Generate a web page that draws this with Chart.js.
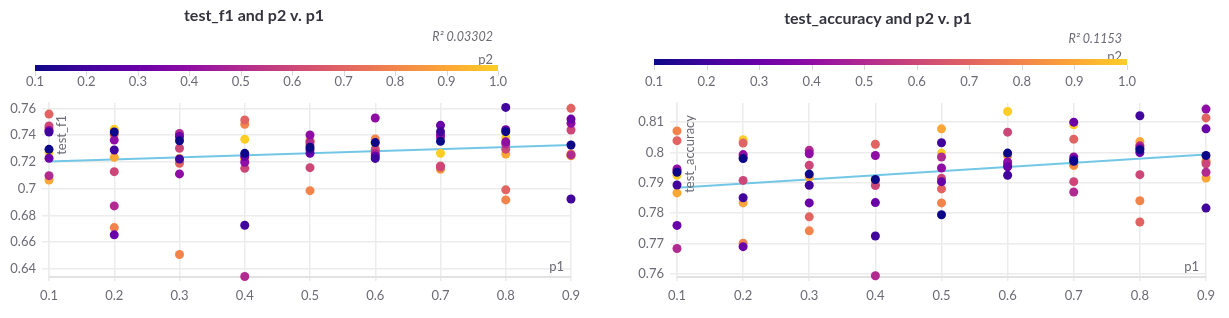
<!DOCTYPE html>
<html>
<head>
<meta charset="utf-8">
<script src="https://cdn.jsdelivr.net/npm/chart.js@4"></script>
<style>
    body { margin: 0; background: #ffffff; }
    .panel { position: absolute; top: 0; height: 318px; }
</style>
</head>
<body>
<div class="panel" style="left:0px; width:610px;"><canvas id="chartF1" width="610" height="318"></canvas></div>
<div class="panel" style="left:615px; width:614px;"><canvas id="chartAcc" width="614" height="318"></canvas></div>
<script>
// Sweep values
const P1 = [0.1, 0.2, 0.3, 0.4, 0.5, 0.6, 0.7, 0.8, 0.9];
const P2 = [0.1, 0.2, 0.3, 0.4, 0.5, 0.6, 0.7, 0.8, 0.9, 1.0];
const CBAR_TICKS = [0.1, 0.2, 0.3, 0.4, 0.5, 0.6, 0.7, 0.8, 0.9, 1.0];

// test_f1, one row per p2 value, one column per p1 value
const TEST_F1 = [
    [0.7294, 0.7423, 0.7358, 0.7264, 0.7309, 0.7344, 0.7354, 0.7426, 0.7326],
    [0.7423, 0.7289, 0.7222, 0.6727, 0.7290, 0.7226, 0.7426, 0.7607, 0.6923],
    [0.7227, 0.6655, 0.7390, 0.7240, 0.7264, 0.7244, 0.7473, 0.7440, 0.7520],
    [0.7435, 0.7363, 0.7110, 0.7197, 0.7401, 0.7528, 0.7400, 0.7350, 0.7488],
    [0.7097, 0.6871, 0.7413, 0.6344, 0.7350, 0.7262, 0.7385, 0.7334, 0.7252],
    [0.7468, 0.7127, 0.7302, 0.7152, 0.7157, 0.7295, 0.7164, 0.7295, 0.7438],
    [0.7557, 0.7405, 0.7190, 0.7513, 0.7330, 0.7280, 0.7170, 0.6991, 0.7600],
    [0.7450, 0.6709, 0.6508, 0.7481, 0.6985, 0.7371, 0.7152, 0.6916, 0.7260],
    [0.7065, 0.7234, 0.7205, 0.7220, 0.7363, 0.7350, 0.7145, 0.7259, 0.7245],
    [0.7270, 0.7443, 0.7225, 0.7369, 0.7350, 0.7337, 0.7264, 0.7381, 0.7250]
];

// test_accuracy, same layout
const TEST_ACC = [
    [0.7935, 0.7980, 0.7929, 0.7911, 0.7795, 0.7998, 0.7971, 0.8009, 0.7990],
    [0.7893, 0.7851, 0.7892, 0.7725, 0.8032, 0.7925, 0.7976, 0.8121, 0.7817],
    [0.7760, 0.7690, 0.7834, 0.7835, 0.7904, 0.7953, 0.8100, 0.8000, 0.8078],
    [0.7946, 0.7993, 0.7996, 0.7990, 0.7949, 0.7969, 0.7985, 0.8015, 0.8143],
    [0.7684, 0.7985, 0.8007, 0.7594, 0.7985, 0.7960, 0.7870, 0.8022, 0.7935],
    [0.7940, 0.7908, 0.7958, 0.7891, 0.7915, 0.8067, 0.7904, 0.7927, 0.7963],
    [0.8039, 0.8031, 0.7788, 0.8027, 0.7880, 0.7957, 0.8044, 0.7771, 0.8114],
    [0.8071, 0.7701, 0.7742, 0.7895, 0.7834, 0.7990, 0.7960, 0.7841, 0.7971],
    [0.7867, 0.7834, 0.7920, 0.7905, 0.8078, 0.7995, 0.7957, 0.8036, 0.7916],
    [0.7925, 0.8042, 0.7919, 0.7908, 0.7998, 0.8135, 0.8091, 0.8025, 0.7970]
];

// Regression line ends (at p1 = 0.1 and p1 = 0.9)
const FIT_X = [0.1, 0.9];
const FIT_F1 = [0.7202, 0.7326];
const FIT_ACC = [0.7884, 0.7993];

// Colors
const COLORMAP = ["#0d0887", "#41049d", "#6a00a8", "#8f0da4", "#b12a90",
                  "#cc4778", "#e16462", "#f2844b", "#fca636", "#fcce25"];
const COLOR_FIT = "#74c6e6";
const COLOR_GRID = "#ececec";
const COLOR_TEXT = "#6b6b76";
const FONT = "Lato";

function hexToRgb(h) {
    return [parseInt(h.substr(1, 2), 16), parseInt(h.substr(3, 2), 16), parseInt(h.substr(5, 2), 16)];
}

// p2 in [0.1, 1.0] -> color
function p2Color(v) {
    var t = (v - 0.1) / 0.9 * (COLORMAP.length - 1);
    var i = Math.max(0, Math.min(COLORMAP.length - 2, Math.floor(t)));
    var f = Math.min(1, Math.max(0, t - i));
    var a = hexToRgb(COLORMAP[i]), b = hexToRgb(COLORMAP[i + 1]);
    var c = a.map((x, k) => Math.round(x + (b[k] - x) * f));
    return "rgb(" + c.join(",") + ")";
}

function fmt(v) {
    return String(Math.round(v * 1000) / 1000);
}

// Title, R^2, colorbar and axis captions
const decorPlugin = {
    id: "decor",
    afterDraw(chart, args, o) {
        const ctx = chart.ctx;
        const area = chart.chartArea;
        ctx.save();

        ctx.fillStyle = "#33333d";
        ctx.font = "bold 16px " + FONT;
        ctx.textAlign = "center";
        ctx.textBaseline = "middle";
        ctx.fillText(o.title, o.titleX, o.titleY);

        ctx.fillStyle = COLOR_TEXT;
        ctx.font = "italic 12.5px " + FONT;
        ctx.textAlign = "right";
        ctx.fillText(o.r2, o.r2X, o.r2Y);
        ctx.font = "13px " + FONT;
        ctx.fillText("p2", o.r2X, o.p2Y);

        // colorbar
        const g = ctx.createLinearGradient(o.barX0, 0, o.barX1, 0);
        COLORMAP.forEach((c, i) => g.addColorStop(i / (COLORMAP.length - 1), c));
        ctx.fillStyle = g;
        ctx.fillRect(o.barX0, o.barY, o.barX1 - o.barX0, 6);
        ctx.strokeStyle = "#d8d8d8";
        ctx.lineWidth = 1;
        ctx.fillStyle = COLOR_TEXT;
        ctx.font = "13px " + FONT;
        ctx.textAlign = "center";
        CBAR_TICKS.forEach(v => {
            const x = o.barX0 + (v - 0.1) / 0.9 * (o.barX1 - o.barX0);
            ctx.beginPath();
            ctx.moveTo(Math.round(x) + 0.5, o.barY + 6);
            ctx.lineTo(Math.round(x) + 0.5, o.barY + 11);
            ctx.stroke();
            ctx.fillText(v.toFixed(1), x, 82);
        });

        // axis captions inside the plot
        ctx.font = "13px " + FONT;
        ctx.translate(area.left + 13, area.top + 12);
        ctx.rotate(-Math.PI / 2);
        ctx.textAlign = "right";
        ctx.fillText(o.yTitle, 0, 0);
        ctx.setTransform(1, 0, 0, 1, 0, 0);
        ctx.textAlign = "right";
        ctx.fillText("p1", area.right - 7, area.bottom - 10);
        ctx.restore();
    }
};

function createScatterChart(canvasId, values, fit, yMin, yMax, step, axisW, padRight, decor) {
    const datasets = [{
        type: "line",
        data: FIT_X.map((x, i) => ({ x: x, y: fit[i] })),
        borderColor: COLOR_FIT,
        borderWidth: 2,
        pointRadius: 0,
        fill: false,
        order: 100
    }];
    for (let i = 0; i < P2.length; i++) {
        datasets.push({
            type: "scatter",
            data: P1.map((x, j) => ({ x: x, y: values[i][j] })),
            backgroundColor: p2Color(P2[i]),
            borderWidth: 0,
            pointRadius: 4.5,
            clip: false,
            order: i
        });
    }
    return new Chart(canvasId, {
        data: { datasets: datasets },
        plugins: [decorPlugin],
        options: {
            responsive: false,
            animation: false,
            layout: { padding: { top: 103, right: padRight, left: 0, bottom: 0 } },
            plugins: {
                legend: { display: false },
                tooltip: { enabled: false },
                decor: decor
            },
            scales: {
                x: {
                    type: "linear",
                    min: 0.1,
                    max: 0.9,
                    afterFit(s) { s.height = 41; },
                    grid: { color: COLOR_GRID, lineWidth: 1.5, tickLength: 4 },
                    border: { color: "#e2e2e2", width: 2 },
                    ticks: {
                        stepSize: 0.1,
                        padding: 7,
                        color: COLOR_TEXT,
                        font: { family: FONT, size: 13 },
                        callback: v => fmt(v)
                    }
                },
                y: {
                    min: yMin,
                    max: yMax,
                    afterFit(s) { s.width = axisW; },
                    grid: { color: COLOR_GRID, lineWidth: 1.5, tickLength: 7 },
                    border: { color: COLOR_GRID, width: 1.5 },
                    ticks: {
                        stepSize: step,
                        includeBounds: false,
                        padding: 6,
                        color: COLOR_TEXT,
                        font: { family: FONT, size: 13 },
                        callback: v => fmt(v)
                    }
                }
            }
        }
    });
}

createScatterChart("chartF1", TEST_F1, FIT_F1, 0.634, 0.764, 0.02, 49, 39, {
    title: "test_f1 and p2 v. p1", titleX: 254, titleY: 16,
    r2: "R\u00b2 0.03302", r2X: 493, r2Y: 37, p2Y: 60,
    barX0: 35, barX1: 498, barY: 65, yTitle: "test_f1"
});

createScatterChart("chartAcc", TEST_ACC, FIT_ACC, 0.759, 0.8163, 0.01, 62, 23, {
    title: "test_accuracy and p2 v. p1", titleX: 263, titleY: 19,
    r2: "R\u00b2 0.1153", r2X: 507, r2Y: 39, p2Y: 57,
    barX0: 39, barX1: 512, barY: 59, yTitle: "test_accuracy"
});
</script>
</body>
</html>
